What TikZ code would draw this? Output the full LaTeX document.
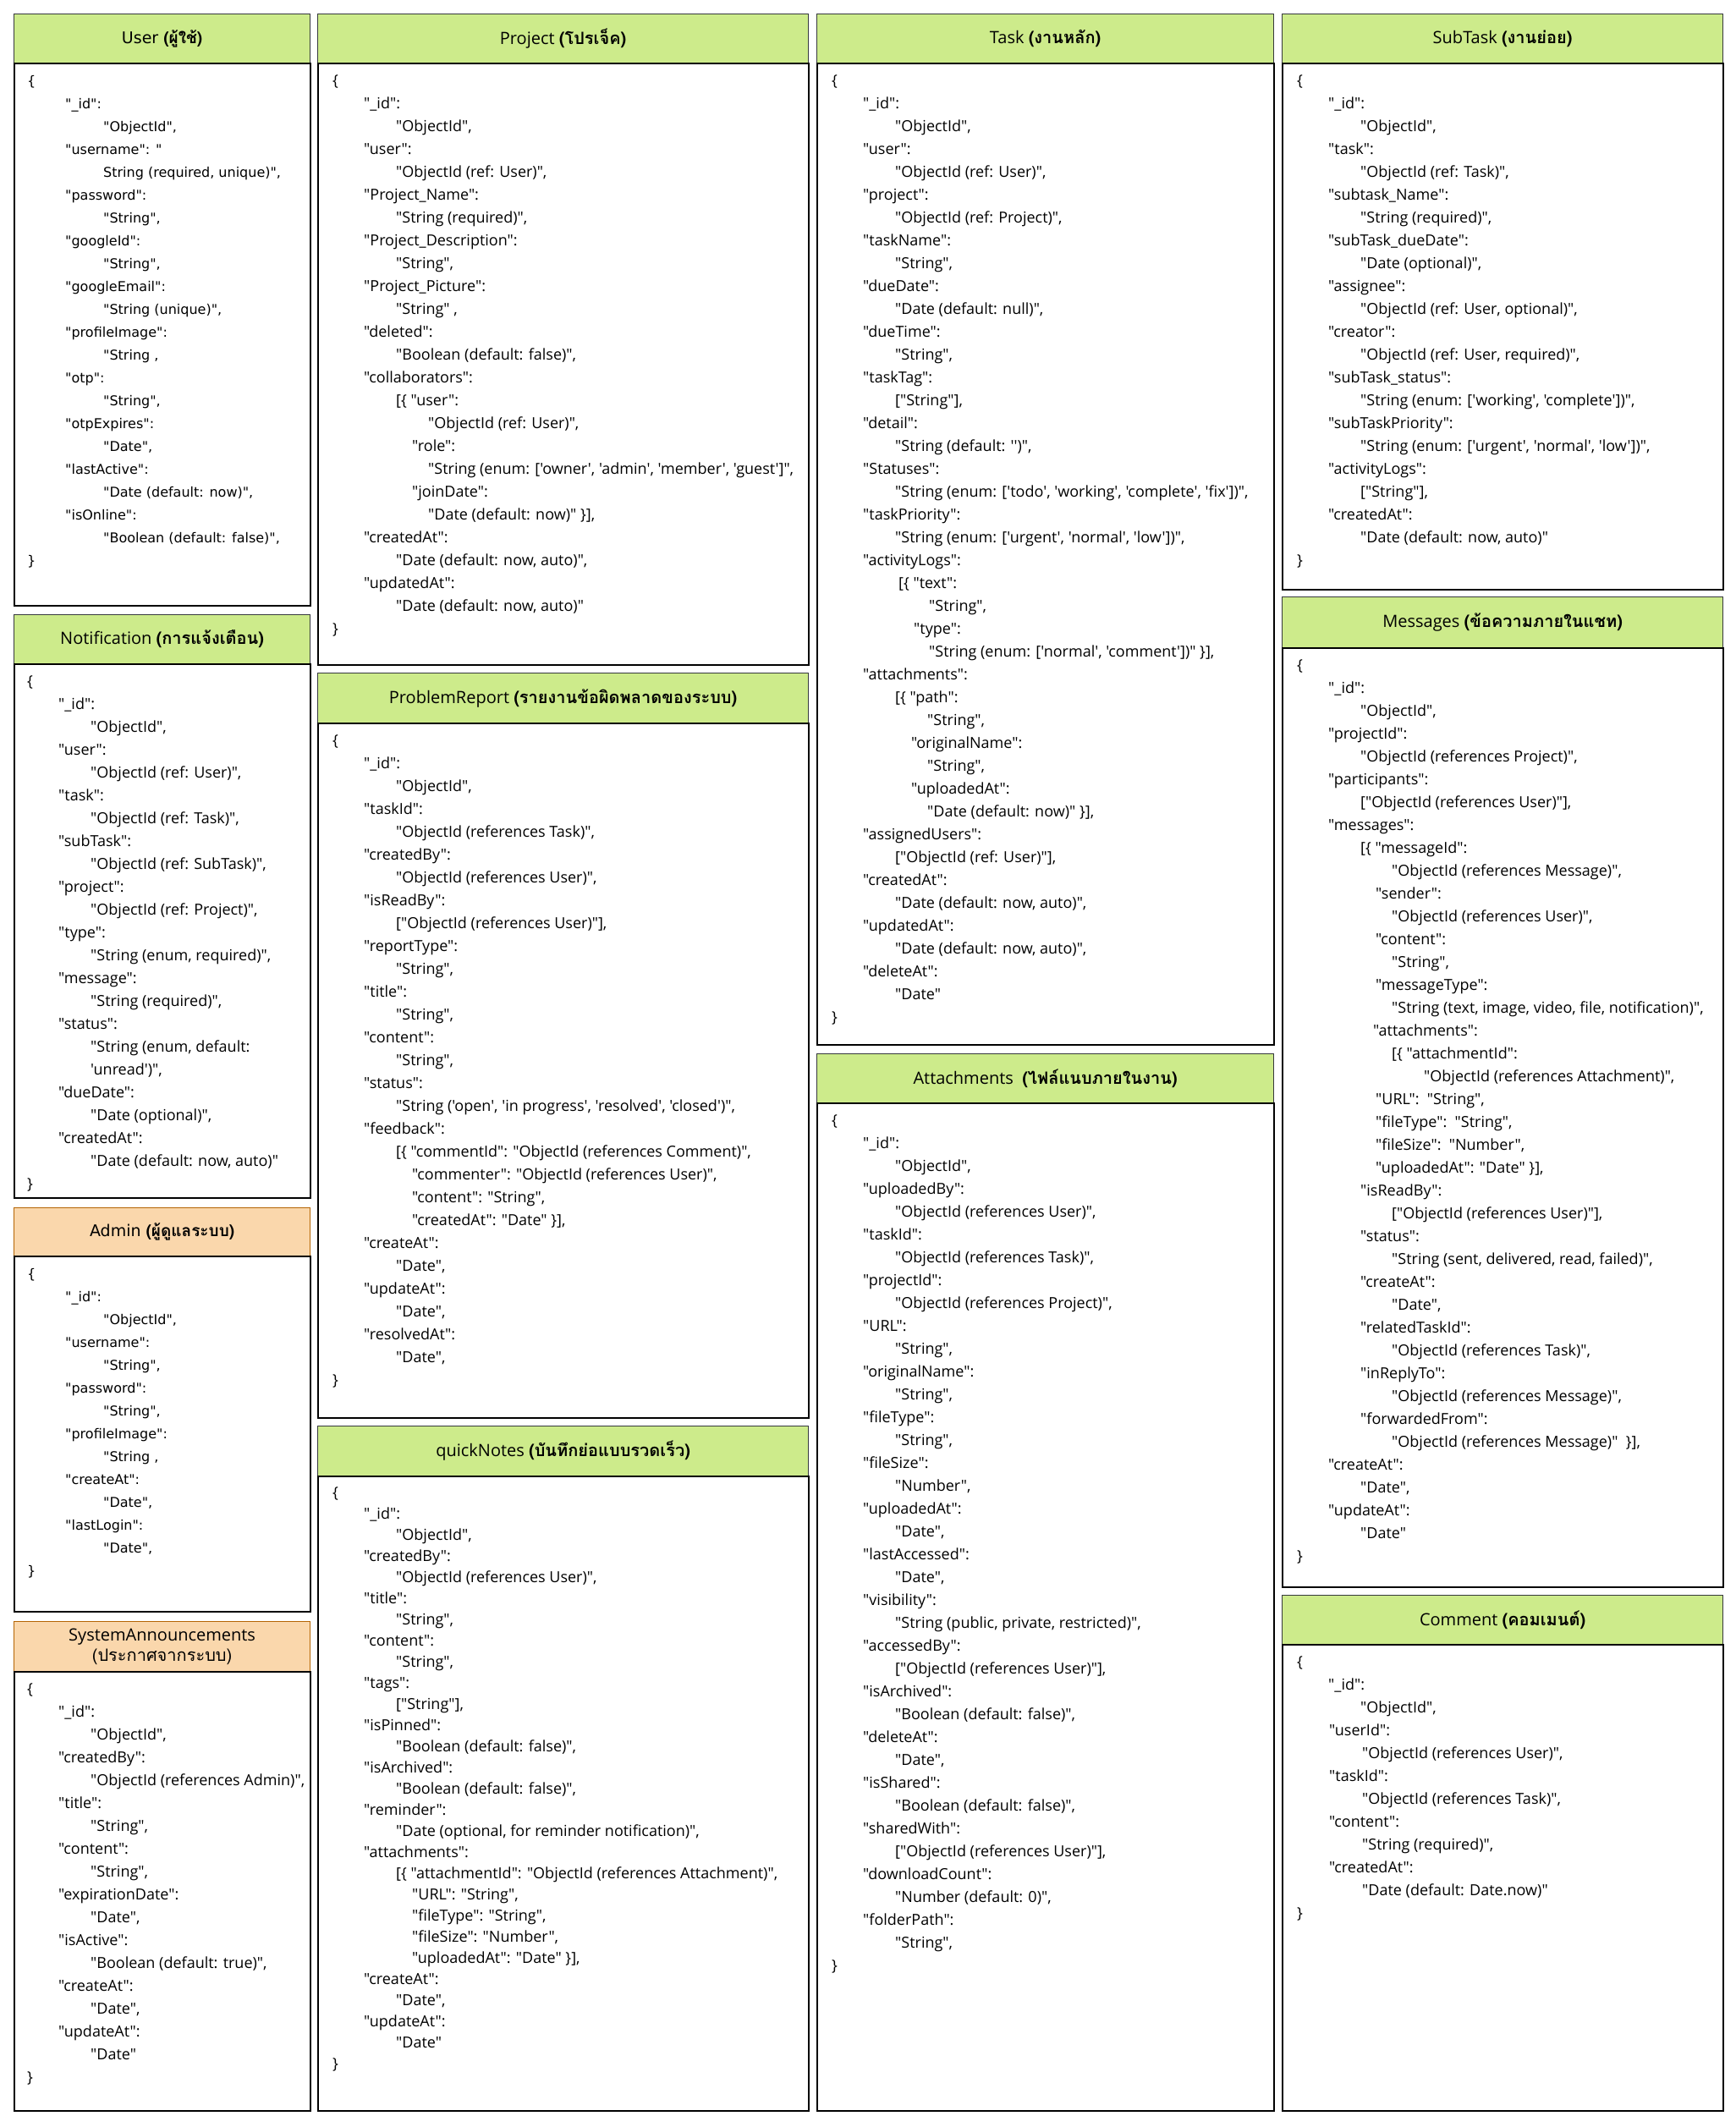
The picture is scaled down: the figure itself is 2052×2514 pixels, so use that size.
\documentclass[tikz,border=0pt]{standalone}
\usepackage{fontspec}
\newfontfamily\osans{Open Sans}
\newfontfamily\dvsans{DejaVu Sans}
\newfontfamily\thaifont[Script=Thai]{Loma}
\definecolor{headgreen}{HTML}{CDEB8B}
\definecolor{greenline}{HTML}{36393D}
\definecolor{headorange}{HTML}{FAD7AC}
\definecolor{orangeline}{HTML}{B46504}
\newcommand\thai[1]{{\thaifont\bfseries #1}}
\newcommand\ind[1]{\hspace*{#1pt}}
\tikzset{greenhead/.style = {draw=greenline, fill=headgreen, line width=1.2pt, anchor=north west, inner sep=0, align=center, font=\fontsize{20}{24}\osans}}
\tikzset{orangehead/.style = {draw=orangeline, fill=headorange, line width=1.2pt, anchor=north west, inner sep=0, align=center, font=\fontsize{20}{24}\osans}}
\tikzset{bodybox/.style = {draw=black, fill=white, line width=1.5pt, anchor=north west, inner sep=0}}
\tikzset{fields/.style = {anchor=north west, inner sep=0, align=left, font=\fontsize{18}{27}\osans}}
\tikzset{vfields/.style = {fields, font=\fontsize{16}{27}\dvsans}}

\begin{document}
\begin{tikzpicture}[x=1pt, y=-1pt]
\fill[white] (0,0) rectangle (2052,2514);
\useasboundingbox (0,0) rectangle (2052,2514);

\node[greenhead, minimum width=350pt, minimum height=58pt, font=\fontsize{19}{24}\dvsans] (user-head) at (16,16) {User \thai{(ผู้ใช้)}};
\node[bodybox, minimum width=350pt, minimum height=641pt] (user-body) at (16,74) {};
\node[vfields] (user-fields) at ([xshift=16pt, yshift=-15pt]user-body.north west) {\{\\
\ind{45}"\_id":\\
\ind{90}"ObjectId",\\
\ind{45}"username": "\\
\ind{90}String (required, unique)",\\
\ind{45}"password":\\
\ind{90}"String",\\
\ind{45}"googleId":\\
\ind{90}"String",\\
\ind{45}"googleEmail":\\
\ind{90}"String (unique)",\\
\ind{45}"profileImage":\\
\ind{90}"String ,\\
\ind{45}"otp":\\
\ind{90}"String",\\
\ind{45}"otpExpires":\\
\ind{90}"Date",\\
\ind{45}"lastActive":\\
\ind{90}"Date (default: now)",\\
\ind{45}"isOnline":\\
\ind{90}"Boolean (default: false)",\\
\}};

\node[greenhead, minimum width=350pt, minimum height=58pt] (notif-head) at (16,726) {Notification \thai{(การแจ้งเตือน)}};
\node[bodybox, minimum width=350pt, minimum height=631pt] (notif-body) at (16,784) {};
\node[fields] (notif-fields) at ([xshift=16pt, yshift=-14pt]notif-body.north west) {\{\\
\ind{37}"\_id":\\
\ind{75}"ObjectId",\\
\ind{37}"user":\\
\ind{75}"ObjectId (ref: User)",\\
\ind{37}"task":\\
\ind{75}"ObjectId (ref: Task)",\\
\ind{37}"subTask":\\
\ind{75}"ObjectId (ref: SubTask)",\\
\ind{37}"project":\\
\ind{75}"ObjectId (ref: Project)",\\
\ind{37}"type":\\
\ind{75}"String (enum, required)",\\
\ind{37}"message":\\
\ind{75}"String (required)",\\
\ind{37}"status":\\
\ind{75}"String (enum, default:\\
\ind{75}'unread')",\\
\ind{37}"dueDate":\\
\ind{75}"Date (optional)",\\
\ind{37}"createdAt":\\
\ind{75}"Date (default: now, auto)"\\
\}};

\node[orangehead, minimum width=350pt, minimum height=57pt, font=\fontsize{19}{24}\dvsans] (admin-head) at (16,1427) {Admin \thai{(ผู้ดูแลระบบ)}};
\node[bodybox, minimum width=350pt, minimum height=420pt] (admin-body) at (16,1484) {};
\node[vfields] (admin-fields) at ([xshift=16pt, yshift=-15pt]admin-body.north west) {\{\\
\ind{45}"\_id":\\
\ind{90}"ObjectId",\\
\ind{45}"username":\\
\ind{90}"String",\\
\ind{45}"password":\\
\ind{90}"String",\\
\ind{45}"profileImage":\\
\ind{90}"String ,\\
\ind{45}"createAt":\\
\ind{90}"Date",\\
\ind{45}"lastLogin":\\
\ind{90}"Date",\\
\}};

\node[orangehead, minimum width=350pt, minimum height=59pt] (announce-head) at (16,1916) {SystemAnnouncements\\{\thaifont (ประกาศจากระบบ)}};
\node[bodybox, minimum width=350pt, minimum height=519pt] (announce-body) at (16,1975) {};
\node[fields] (announce-fields) at ([xshift=16pt, yshift=-14pt]announce-body.north west) {\{\\
\ind{37}"\_id":\\
\ind{75}"ObjectId",\\
\ind{37}"createdBy":\\
\ind{75}"ObjectId (references Admin)",\\
\ind{37}"title":\\
\ind{75}"String",\\
\ind{37}"content":\\
\ind{75}"String",\\
\ind{37}"expirationDate":\\
\ind{75}"Date",\\
\ind{37}"isActive":\\
\ind{75}"Boolean (default: true)",\\
\ind{37}"createAt":\\
\ind{75}"Date",\\
\ind{37}"updateAt":\\
\ind{75}"Date"\\
\}};

\node[greenhead, minimum width=580pt, minimum height=58pt] (project-head) at (375,16) {Project \thai{(โปรเจ็ค)}};
\node[bodybox, minimum width=580pt, minimum height=711pt] (project-body) at (375,74) {};
\node[fields] (project-fields) at ([xshift=18pt, yshift=-14pt]project-body.north west) {\{\\
\ind{37}"\_id":\\
\ind{75}"ObjectId",\\
\ind{37}"user":\\
\ind{75}"ObjectId (ref: User)",\\
\ind{37}"Project\_Name":\\
\ind{75}"String (required)",\\
\ind{37}"Project\_Description":\\
\ind{75}"String",\\
\ind{37}"Project\_Picture":\\
\ind{75}"String" ,\\
\ind{37}"deleted":\\
\ind{75}"Boolean (default: false)",\\
\ind{37}"collaborators":\\
\ind{75}[\{ "user":\\
\ind{113}"ObjectId (ref: User)",\\
\ind{94}"role":\\
\ind{113}"String (enum: ['owner', 'admin', 'member', 'guest']",\\
\ind{94}"joinDate":\\
\ind{113}"Date (default: now)" \}],\\
\ind{37}"createdAt":\\
\ind{75}"Date (default: now, auto)",\\
\ind{37}"updatedAt":\\
\ind{75}"Date (default: now, auto)"\\
\}};

\node[greenhead, minimum width=580pt, minimum height=59pt] (report-head) at (375,795) {ProblemReport \thai{(รายงานข้อผิดพลาดของระบบ)}};
\node[bodybox, minimum width=580pt, minimum height=821pt] (report-body) at (375,854) {};
\node[fields] (report-fields) at ([xshift=18pt, yshift=-14pt]report-body.north west) {\{\\
\ind{37}"\_id":\\
\ind{75}"ObjectId",\\
\ind{37}"taskId":\\
\ind{75}"ObjectId (references Task)",\\
\ind{37}"createdBy":\\
\ind{75}"ObjectId (references User)",\\
\ind{37}"isReadBy":\\
\ind{75}["ObjectId (references User)"],\\
\ind{37}"reportType":\\
\ind{75}"String",\\
\ind{37}"title":\\
\ind{75}"String",\\
\ind{37}"content":\\
\ind{75}"String",\\
\ind{37}"status":\\
\ind{75}"String ('open', 'in progress', 'resolved', 'closed')",\\
\ind{37}"feedback":\\
\ind{75}[\{ "commentId": "ObjectId (references Comment)",\\
\ind{94}"commenter": "ObjectId (references User)",\\
\ind{94}"content": "String",\\
\ind{94}"createdAt": "Date" \}],\\
\ind{37}"createAt":\\
\ind{75}"Date",\\
\ind{37}"updateAt":\\
\ind{75}"Date",\\
\ind{37}"resolvedAt":\\
\ind{75}"Date",\\
\}};

\node[greenhead, minimum width=580pt, minimum height=59pt] (notes-head) at (375,1685) {quickNotes \thai{(บันทึกย่อแบบรวดเร็ว)}};
\node[bodybox, minimum width=580pt, minimum height=750pt] (notes-body) at (375,1744) {};
\node[fields, font=\fontsize{18}{25}\osans] (notes-fields) at ([xshift=18pt, yshift=-13pt]notes-body.north west) {\{\\
\ind{37}"\_id":\\
\ind{75}"ObjectId",\\
\ind{37}"createdBy":\\
\ind{75}"ObjectId (references User)",\\
\ind{37}"title":\\
\ind{75}"String",\\
\ind{37}"content":\\
\ind{75}"String",\\
\ind{37}"tags":\\
\ind{75}["String"],\\
\ind{37}"isPinned":\\
\ind{75}"Boolean (default: false)",\\
\ind{37}"isArchived":\\
\ind{75}"Boolean (default: false)",\\
\ind{37}"reminder":\\
\ind{75}"Date (optional, for reminder notification)",\\
\ind{37}"attachments":\\
\ind{75}[\{ "attachmentId": "ObjectId (references Attachment)",\\
\ind{94}"URL": "String",\\
\ind{94}"fileType": "String",\\
\ind{94}"fileSize": "Number",\\
\ind{94}"uploadedAt": "Date" \}],\\
\ind{37}"createAt":\\
\ind{75}"Date",\\
\ind{37}"updateAt":\\
\ind{75}"Date"\\
\}};

\node[greenhead, minimum width=540pt, minimum height=58pt] (task-head) at (965,16) {Task \thai{(งานหลัก)}};
\node[bodybox, minimum width=540pt, minimum height=1160pt] (task-body) at (965,74) {};
\node[fields] (task-fields) at ([xshift=18pt, yshift=-14pt]task-body.north west) {\{\\
\ind{37}"\_id":\\
\ind{75}"ObjectId",\\
\ind{37}"user":\\
\ind{75}"ObjectId (ref: User)",\\
\ind{37}"project":\\
\ind{75}"ObjectId (ref: Project)",\\
\ind{37}"taskName":\\
\ind{75}"String",\\
\ind{37}"dueDate":\\
\ind{75}"Date (default: null)",\\
\ind{37}"dueTime":\\
\ind{75}"String",\\
\ind{37}"taskTag":\\
\ind{75}["String"],\\
\ind{37}"detail":\\
\ind{75}"String (default: '')",\\
\ind{37}"Statuses":\\
\ind{75}"String (enum: ['todo', 'working', 'complete', 'fix'])",\\
\ind{37}"taskPriority":\\
\ind{75}"String (enum: ['urgent', 'normal', 'low'])",\\
\ind{37}"activityLogs":\\
\ind{79}[\{ "text":\\
\ind{115}"String",\\
\ind{97}"type":\\
\ind{115}"String (enum: ['normal', 'comment'])" \}],\\
\ind{37}"attachments":\\
\ind{75}[\{ "path":\\
\ind{113}"String",\\
\ind{94}"originalName":\\
\ind{113}"String",\\
\ind{94}"uploadedAt":\\
\ind{113}"Date (default: now)" \}],\\
\ind{37}"assignedUsers":\\
\ind{75}["ObjectId (ref: User)"],\\
\ind{37}"createdAt":\\
\ind{75}"Date (default: now, auto)",\\
\ind{37}"updatedAt":\\
\ind{75}"Date (default: now, auto)",\\
\ind{37}"deleteAt":\\
\ind{75}"Date"\\
\}};

\node[greenhead, minimum width=540pt, minimum height=58pt] (attach-head) at (965,1245) {Attachments\ \ \thai{(ไฟล์แนบภายในงาน)}};
\node[bodybox, minimum width=540pt, minimum height=1191pt] (attach-body) at (965,1303) {};
\node[fields] (attach-fields) at ([xshift=18pt, yshift=-14pt]attach-body.north west) {\{\\
\ind{37}"\_id":\\
\ind{75}"ObjectId",\\
\ind{37}"uploadedBy":\\
\ind{75}"ObjectId (references User)",\\
\ind{37}"taskId":\\
\ind{75}"ObjectId (references Task)",\\
\ind{37}"projectId":\\
\ind{75}"ObjectId (references Project)",\\
\ind{37}"URL":\\
\ind{75}"String",\\
\ind{37}"originalName":\\
\ind{75}"String",\\
\ind{37}"fileType":\\
\ind{75}"String",\\
\ind{37}"fileSize":\\
\ind{75}"Number",\\
\ind{37}"uploadedAt":\\
\ind{75}"Date",\\
\ind{37}"lastAccessed":\\
\ind{75}"Date",\\
\ind{37}"visibility":\\
\ind{75}"String (public, private, restricted)",\\
\ind{37}"accessedBy":\\
\ind{75}["ObjectId (references User)"],\\
\ind{37}"isArchived":\\
\ind{75}"Boolean (default: false)",\\
\ind{37}"deleteAt":\\
\ind{75}"Date",\\
\ind{37}"isShared":\\
\ind{75}"Boolean (default: false)",\\
\ind{37}"sharedWith":\\
\ind{75}["ObjectId (references User)"],\\
\ind{37}"downloadCount":\\
\ind{75}"Number (default: 0)",\\
\ind{37}"folderPath":\\
\ind{75}"String",\\
\}};

\node[greenhead, minimum width=521pt, minimum height=58pt] (subtask-head) at (1515,16) {SubTask \thai{(งานย่อย)}};
\node[bodybox, minimum width=521pt, minimum height=622pt] (subtask-body) at (1515,74) {};
\node[fields] (subtask-fields) at ([xshift=18pt, yshift=-14pt]subtask-body.north west) {\{\\
\ind{37}"\_id":\\
\ind{75}"ObjectId",\\
\ind{37}"task":\\
\ind{75}"ObjectId (ref: Task)",\\
\ind{37}"subtask\_Name":\\
\ind{75}"String (required)",\\
\ind{37}"subTask\_dueDate":\\
\ind{75}"Date (optional)",\\
\ind{37}"assignee":\\
\ind{75}"ObjectId (ref: User, optional)",\\
\ind{37}"creator":\\
\ind{75}"ObjectId (ref: User, required)",\\
\ind{37}"subTask\_status":\\
\ind{75}"String (enum: ['working', 'complete'])",\\
\ind{37}"subTaskPriority":\\
\ind{75}"String (enum: ['urgent', 'normal', 'low'])",\\
\ind{37}"activityLogs":\\
\ind{75}["String"],\\
\ind{37}"createdAt":\\
\ind{75}"Date (default: now, auto)"\\
\}};

\node[greenhead, minimum width=521pt, minimum height=60pt] (msg-head) at (1515,705) {Messages \thai{(ข้อความภายในแชท)}};
\node[bodybox, minimum width=521pt, minimum height=1110pt] (msg-body) at (1515,765) {};
\node[fields] (msg-fields) at ([xshift=18pt, yshift=-14pt]msg-body.north west) {\{\\
\ind{37}"\_id":\\
\ind{75}"ObjectId",\\
\ind{37}"projectId":\\
\ind{75}"ObjectId (references Project)",\\
\ind{37}"participants":\\
\ind{75}["ObjectId (references User)"],\\
\ind{37}"messages":\\
\ind{75}[\{ "messageId":\\
\ind{112}"ObjectId (references Message)",\\
\ind{93}"sender":\\
\ind{112}"ObjectId (references User)",\\
\ind{93}"content":\\
\ind{112}"String",\\
\ind{93}"messageType":\\
\ind{112}"String (text, image, video, file, notification)",\\
\ind{90}"attachments":\\
\ind{112}[\{ "attachmentId":\\
\ind{150}"ObjectId (references Attachment)",\\
\ind{93}"URL":\ \ "String",\\
\ind{93}"fileType":\ \ "String",\\
\ind{93}"fileSize":\ \ "Number",\\
\ind{93}"uploadedAt": "Date" \}],\\
\ind{75}"isReadBy":\\
\ind{112}["ObjectId (references User)"],\\
\ind{75}"status":\\
\ind{112}"String (sent, delivered, read, failed)",\\
\ind{75}"createAt":\\
\ind{112}"Date",\\
\ind{75}"relatedTaskId":\\
\ind{112}"ObjectId (references Task)",\\
\ind{75}"inReplyTo":\\
\ind{112}"ObjectId (references Message)",\\
\ind{75}"forwardedFrom":\\
\ind{112}"ObjectId (references Message)"\ \ \}],\\
\ind{37}"createAt":\\
\ind{75}"Date",\\
\ind{37}"updateAt":\\
\ind{75}"Date"\\
\}};

\node[greenhead, minimum width=521pt, minimum height=58pt] (comment-head) at (1515,1885) {Comment \thai{(คอมเมนต์)}};
\node[bodybox, minimum width=521pt, minimum height=551pt] (comment-body) at (1515,1943) {};
\node[fields] (comment-fields) at ([xshift=18pt, yshift=-14pt]comment-body.north west) {\{\\
\ind{37}"\_id":\\
\ind{75}"ObjectId",\\
\ind{38}"userId":\\
\ind{77}"ObjectId (references User)",\\
\ind{38}"taskId":\\
\ind{77}"ObjectId (references Task)",\\
\ind{38}"content":\\
\ind{77}"String (required)",\\
\ind{38}"createdAt":\\
\ind{77}"Date (default: Date.now)"\\
\}};
\end{tikzpicture}
\end{document}
